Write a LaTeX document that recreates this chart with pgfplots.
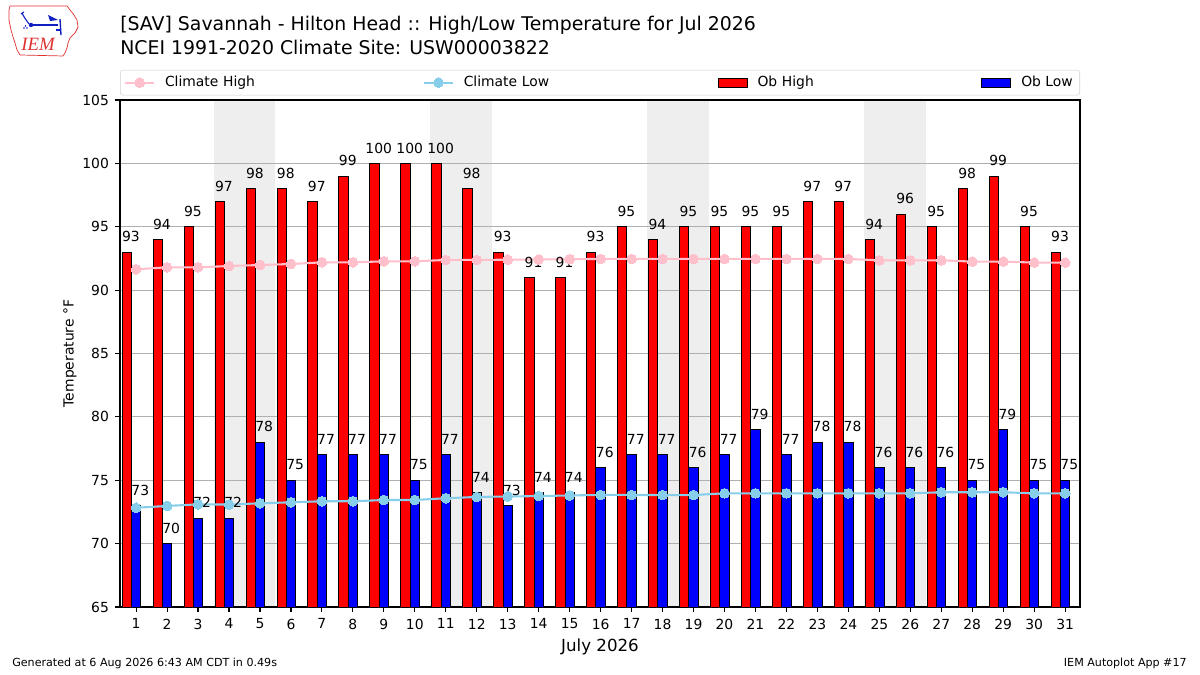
\documentclass[border=0pt]{standalone}
\usepackage{fontspec}
\setmainfont{DejaVu Sans}
\newfontfamily\logofont{Liberation Serif}
\usepackage{pgfplots}
\usepackage{pgfplotstable}
\pgfplotsset{compat=1.18}
\definecolor{chigh}{HTML}{FFC0CB}
\definecolor{clow}{HTML}{87CEEB}
\definecolor{band}{HTML}{EEEEEE}
\definecolor{gridc}{HTML}{B0B0B0}
\definecolor{logored}{HTML}{E03030}
\definecolor{logoblue}{HTML}{1020C0}
\pgfplotsset{
  mylineleg/.style={legend image code/.code={\draw[sharp corners,mark repeat=2,mark phase=2,##1] plot coordinates {(0pt,0pt) (10.25pt,0pt) (20.5pt,0pt)};}},
  mybarleg/.style={legend image code/.code={\draw[##1, sharp corners] (0pt,-3.3pt) rectangle (20.9pt,3.3pt);}},
}

\pgfplotstableread{
day high low chigh clow
1 93 73 91.64 72.83
2 94 70 91.80 72.97
3 95 72 91.80 73.10
4 97 72 91.90 73.08
5 98 78 91.98 73.18
6 98 75 92.06 73.26
7 97 77 92.19 73.34
8 99 77 92.19 73.34
9 100 77 92.27 73.44
10 100 75 92.27 73.44
11 100 77 92.38 73.58
12 98 74 92.38 73.68
13 93 73 92.40 73.72
14 91 74 92.42 73.75
15 91 74 92.44 73.80
16 93 76 92.46 73.84
17 95 77 92.46 73.84
18 94 77 92.46 73.83
19 95 76 92.46 73.83
20 95 77 92.46 73.97
21 95 79 92.46 73.97
22 95 77 92.46 73.97
23 97 78 92.46 73.97
24 97 78 92.46 73.97
25 94 76 92.35 73.97
26 96 76 92.35 73.97
27 95 76 92.35 74.05
28 98 75 92.25 74.05
29 99 79 92.25 74.05
30 95 75 92.17 73.97
31 93 75 92.17 73.97
}\data

\begin{document}
\begin{tikzpicture}[x=1pt,y=1pt]
\path (0,0) rectangle (864,486);

% logo (pixel coordinates)
\begin{scope}[shift={(0pt,486pt)}, x=0.72pt, y=-0.72pt]
\draw[logored, line width=0.5pt] (10,6) -- (67,6) -- (70,10) -- (74,15) -- (77,20) -- (78,27) -- (75,33) -- (70,38) -- (68,43) -- (67,48) -- (65,53) -- (63,56) -- (20,55) -- (17,50) -- (15,43) -- (13,37) -- (11,30) -- (9,20) -- (9,10) -- cycle;
\draw[logoblue, line width=1pt] (31,25) -- (58,25);
\fill[logoblue] (31,25) circle (2.2);
\draw[logoblue, line width=0.8pt] (22,13) .. controls (24,17) .. (29,24);
\draw[logoblue, line width=0.8pt] (21,14) -- (24,12);
\fill[logoblue] (48,15) -- (58,20) -- (50,21) -- cycle;
\draw[logoblue, line width=1pt] (60,19) -- (61,35);
\draw[logoblue, line width=0.8pt] (56,30) -- (61,30);
\fill[logoblue] (24,28) circle (0.8) (27,28) circle (0.8) (25.5,26) circle (0.8);
\node[anchor=base, inner sep=0pt, text=logored] at (38,51) {\logofont\itshape\fontsize{13.5}{14}\selectfont IEM};
\end{scope}

% titles
\node[anchor=base west, inner sep=0pt] at (86.4,463.7) {\fontsize{13.6}{16}\selectfont [SAV] Savannah - Hilton Head :: High/Low Temperature for Jul 2026};
\node[anchor=base west, inner sep=0pt] at (86.4,447.0) {\fontsize{13.6}{16}\selectfont NCEI 1991-2020 Climate Site: USW00003822};

% footer
\node[anchor=base west, inner sep=0pt] at (8.64,5.9) {\fontsize{8}{10}\selectfont Generated at 6 Aug 2026 6:43 AM CDT in 0.49s};
\node[anchor=base east, inner sep=0pt] at (854.6,5.9) {\fontsize{8}{10}\selectfont IEM Autoplot App \#17};

\begin{axis}[
  at={(86.4pt,48.96pt)}, anchor=south west,
  scale only axis, width=691.2pt, height=365.04pt,
  set layers,
  xmin=0.48, xmax=31.48, ymin=65, ymax=105,
  xtick={1,...,31}, ytick={65,70,...,105},
  tick pos=left, tick align=outside,
  major tick length=3.5pt,
  tick style={black, line width=0.8pt},
  axis line style={black, line width=0.8pt},
  ymajorgrids, grid style={gridc, line width=0.8pt},
  /pgf/number format/assume math mode=true,
  ticklabel style={font=\fontsize{10}{12}\selectfont},
  xticklabel style={yshift=-1.5pt},
  yticklabel style={xshift=-1pt},
  ylabel={Temperature °F},
  xlabel={July 2026},
  y label style={at={(axis description cs:-0.0521,0.5)}, anchor=center, font=\fontsize{10}{12}\selectfont},
  x label style={at={(axis description cs:0.5,-0.078)}, anchor=center, font=\fontsize{12}{14}\selectfont},
  legend style={at={(0.5,1)}, anchor=south, yshift=3.24pt, draw=black!18, rounded corners=2pt,
    inner xsep=3pt, inner ysep=2.5pt, font=\fontsize{10}{12}\selectfont,
    /tikz/every odd column/.style={column sep=5.2pt},
    /tikz/every even column/.style={column sep=0pt}},
  legend columns=4, legend cell align=left,
]
% weekend bands
\addplot[draw=none, fill=band, forget plot, on layer=axis background] coordinates {(3.5,105) (5.5,105)} \closedcycle;
\addplot[draw=none, fill=band, forget plot, on layer=axis background] coordinates {(10.5,105) (12.5,105)} \closedcycle;
\addplot[draw=none, fill=band, forget plot, on layer=axis background] coordinates {(17.5,105) (19.5,105)} \closedcycle;
\addplot[draw=none, fill=band, forget plot, on layer=axis background] coordinates {(24.5,105) (26.5,105)} \closedcycle;

% bars
\addplot[ybar, bar width=0.3, bar shift=0pt, fill=red, draw=black, line width=0.7pt, forget plot,
  nodes near coords, nodes near coords style={anchor=base, yshift=7.4pt, xshift=3pt, text=black, font=\fontsize{10}{12}\selectfont, inner sep=0pt}]
  table[x expr=\thisrow{day}-0.3, y=high] {\data};
\addplot[ybar, bar width=0.3, bar shift=0pt, fill=blue, draw=black, line width=0.7pt, forget plot,
  nodes near coords, nodes near coords style={anchor=base, yshift=7.4pt, xshift=3pt, text=black, font=\fontsize{10}{12}\selectfont, inner sep=0pt}]
  table[x=day, y=low] {\data};

% climate lines
\addplot[chigh, line width=1.5pt, mark=*, mark size=3.5pt, mark options={fill=chigh, draw=chigh, line width=0pt}, forget plot]
  table[x=day, y=chigh] {\data};
\addplot[clow, line width=1.5pt, mark=*, mark size=3.5pt, mark options={fill=clow, draw=clow, line width=0pt}, forget plot]
  table[x=day, y=clow] {\data};

% legend
\addlegendimage{chigh, line width=1.5pt, mark=*, mark size=3.5pt, mark options={fill=chigh, draw=chigh, line width=0pt}, mylineleg}
\addlegendentry[text width=183.9pt]{Climate High}
\addlegendimage{clow, line width=1.5pt, mark=*, mark size=3.5pt, mark options={fill=clow, draw=clow, line width=0pt}, mylineleg}
\addlegendentry[text width=180.7pt]{Climate Low}
\addlegendimage{fill=red, draw=black, line width=0.7pt, mybarleg}
\addlegendentry[text width=159.1pt]{Ob High}
\addlegendimage{fill=blue, draw=black, line width=0.7pt, mybarleg}
\addlegendentry{Ob Low}
\end{axis}
\pgfresetboundingbox
\useasboundingbox (0,0) rectangle (864,486);
\end{tikzpicture}
\end{document}
